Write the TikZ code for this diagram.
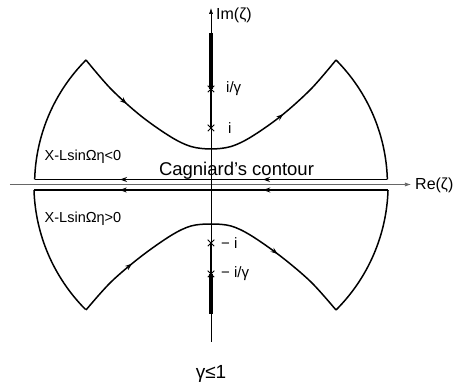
\documentclass[tikz,border=0pt]{standalone}
\usepackage{fontspec}
\setmainfont{Liberation Sans}
\usetikzlibrary{arrows.meta,decorations.markings,shapes.misc}
\tikzset{
  contour/.style={line width=1.5pt, line join=miter},
  twoflow/.style n args={2}{postaction={decorate}, decoration={markings,
      mark=at position #1 with {\arrow{Stealth[length=7pt,width=5pt]}},
      mark=at position #2 with {\arrow{Stealth[length=7pt,width=5pt]}}}},
  crossmark/.style={draw, cross out, minimum size=5.5pt, inner sep=0pt, line width=1pt},
  lbl/.style={font=\fontsize{15}{17}\selectfont, inner sep=0pt},
  small/.style={font=\fontsize{14.5}{16}\selectfont, inner sep=0pt},
  axisline/.style={line width=0.6pt, -{Latex[length=6pt,width=4pt]}},
}
\begin{document}
\begin{tikzpicture}[x=1pt,y=1pt]
\useasboundingbox (-211,184.5) rectangle (245,-200.5);

% axes
\coordinate (reS) at (-201,0);
\coordinate (reE) at (200,0);
\coordinate (imS) at (0,-157.5);
\coordinate (imE) at (0,176.5);
\draw[axisline, black!60] (reS) -- (reE);
\draw[axisline] (imS) -- (imE);

% singular points
\node[crossmark] (pig) at (0,95.5) {};
\node[crossmark] (pi) at (0,56.5) {};
\node[crossmark] (mi) at (0,-58.5) {};
\node[crossmark] (mig) at (0,-89.5) {};
\coordinate (cutT) at (0,151.5);
\coordinate (cutB) at (0,-129.5);
\draw[line width=3.8pt] (cutT) -- (pig.center);
\draw[line width=2.5pt] (pig.center) -- (pi.center);
\draw[line width=2.5pt] (mi.center) -- (mig.center);
\draw[line width=3.8pt] (mig.center) -- (cutB);

% upper region
\draw[contour, twoflow={0.19}{0.76}] plot[smooth, tension=0.55] coordinates {
 (-125,124.5) (-100,95.5) (-70,68.5) (-40,47.5) (-20,38) (0,35.5)
 (20,38) (40,47.5) (70,68.5) (100,95.5) (125,124.5)};
\draw[contour] (125,124.5) arc[start angle=44.89, end angle=1.62, radius=176.4];
\draw[contour] (-176.33,5) arc[start angle=178.38, end angle=135.11, radius=176.4];
\draw[contour, twoflow={0.3525}{0.758}] (176.33,5) -- (-176.33,5);

% lower region
\draw[contour, twoflow={0.21}{0.74}] plot[smooth, tension=0.55] coordinates {
 (-125,-125.5) (-100,-97.5) (-70,-72) (-40,-51) (-20,-41.5) (0,-39.5)
 (20,-41.5) (40,-51) (70,-72) (100,-97.5) (125,-125.5)};
\draw[contour] (125,-125.5) arc[start angle=-45.11, end angle=-1.78, radius=177.1];
\draw[contour] (-177.0,-5.5) arc[start angle=181.78, end angle=224.89, radius=177.1];
\draw[contour, twoflow={0.3525}{0.758}] (177.0,-5.5) -- (-177.0,-5.5);

% labels
\node[lbl, anchor=west, font=\fontsize{16}{18}\selectfont] (imlab) at (5,169.5) {Im(ζ)};
\node[lbl, anchor=west, font=\fontsize{16}{18}\selectfont] (relab) at (204,-0.5) {Re(ζ)};
\node[lbl, anchor=west] (ligl) at (15,95.5) {i/γ};
\node[lbl, anchor=west] (lil) at (17,56.5) {i};
\node[lbl, anchor=west] (lmi) at (10,-58.5) {− i};
\node[lbl, anchor=west] (lmig) at (10,-89.5) {− i/γ};
\node[anchor=base, inner sep=0pt, font=\fontsize{18.5}{20}\selectfont] (cag) at (25.5,8.5) {Cagniard's contour};
\node[small] (neg) at (-128,27.5) {X-LsinΩη<0};
\node[small] (pos) at (-128,-34.5) {X-LsinΩη>0};
\node[inner sep=0pt, font=\fontsize{19}{21}\selectfont] (gam) at (0,-189.5) {γ≤1};
\end{tikzpicture}
\end{document}
